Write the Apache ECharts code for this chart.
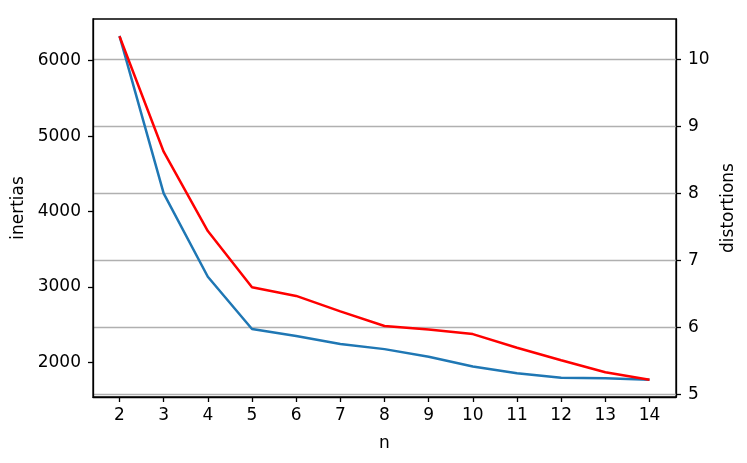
<!DOCTYPE html>
<html>
<head>
<meta charset="utf-8">
<script src="https://cdn.jsdelivr.net/npm/echarts@6/dist/echarts.min.js"></script>
<style>
  html, body { margin: 0; padding: 0; background: #fff; }
  #chart { width: 747px; height: 463px; }
</style>
</head>
<body>
<div id="chart"></div>
<script>
  // 数据
  const nValues = [2, 3, 4, 5, 6, 7, 8, 9, 10, 11, 12, 13, 14];
  const inertias = [6330, 4241, 3135, 2442, 2349, 2243, 2175, 2074, 1945, 1854, 1796, 1788, 1768];
  const distortions = [10.35, 8.625, 7.44, 6.6, 6.47, 6.24, 6.02, 5.97, 5.9, 5.695, 5.51, 5.33, 5.217];
  const leftTicks = [2000, 3000, 4000, 5000, 6000];
  const rightTicks = [5, 6, 7, 8, 9, 10];

  const font = 'DejaVu Sans';
  const fontSize = 17;
  const myChart = echarts.init(document.getElementById('chart'));

  const axisLine = { show: true, lineStyle: { color: '#000', width: 1.3 } };
  const axisTick = (vals) => ({
    show: true, length: 5, inside: false, customValues: vals,
    lineStyle: { color: '#000', width: 1.3 }
  });
  const axisLabel = (vals, margin) => ({
    customValues: vals, margin: margin,
    formatter: (v) => String(v),
    color: '#000', fontFamily: font, fontSize: fontSize
  });
  const nameStyle = { color: '#000', fontFamily: font, fontSize: fontSize };

  const option = {
    animation: false,
    backgroundColor: '#fff',
    grid: {
      left: 93, right: 71, top: 19, bottom: 66, containLabel: false,
      show: true, borderColor: '#000', borderWidth: 1.3
    },
    xAxis: {
      type: 'value', min: 1.4, max: 14.6,
      name: 'n', nameLocation: 'middle', nameGap: 38,
      nameTextStyle: nameStyle,
      axisLine: axisLine,
      axisTick: axisTick(nValues),
      axisLabel: axisLabel(nValues, 10),
      splitLine: { show: false }
    },
    yAxis: [
      {
        type: 'value', min: 1540, max: 6553, position: 'left',
        name: 'inertias', nameLocation: 'middle', nameGap: 59, nameRotate: 90,
        nameTextStyle: nameStyle,
        axisLine: axisLine,
        axisTick: axisTick(leftTicks),
        axisLabel: axisLabel(leftTicks, 12),
        splitLine: { show: false }
      },
      {
        type: 'value', min: 4.96, max: 10.608, position: 'right',
        name: 'distortions', nameLocation: 'middle', nameGap: 35, nameRotate: 90,
        nameTextStyle: nameStyle,
        axisLine: axisLine,
        axisTick: axisTick(rightTicks),
        axisLabel: axisLabel(rightTicks, 12),
        splitLine: { show: true, lineStyle: { color: '#b0b0b0', width: 1.3 } }
      }
    ],
    series: [
      {
        name: 'inertias', type: 'line', yAxisIndex: 0,
        data: nValues.map((n, i) => [n, inertias[i]]),
        showSymbol: false, symbol: 'none',
        lineStyle: { color: '#1f77b4', width: 2.5 }
      },
      {
        name: 'distortions', type: 'line', yAxisIndex: 1,
        data: nValues.map((n, i) => [n, distortions[i]]),
        showSymbol: false, symbol: 'none',
        lineStyle: { color: '#ff0000', width: 2.5 }
      }
    ]
  };

  myChart.setOption(option);
</script>
</body>
</html>
